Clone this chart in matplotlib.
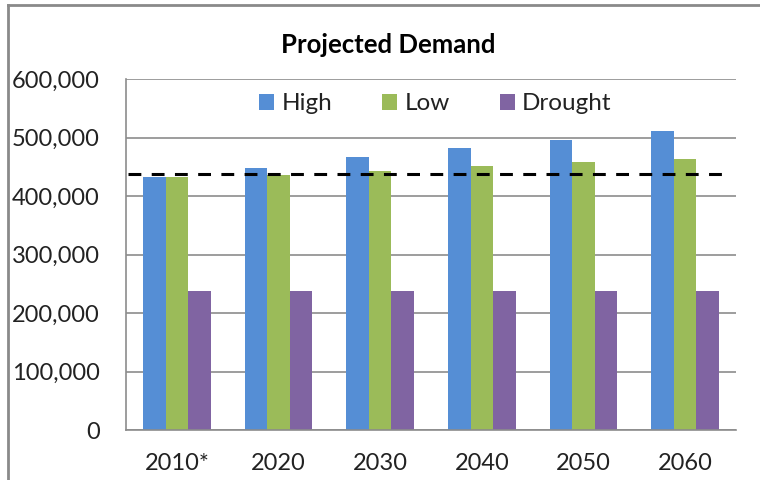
import matplotlib.pyplot as plt
import numpy as np
from matplotlib.ticker import FuncFormatter
from matplotlib.lines import Line2D

plt.rcParams['font.family'] = ['Lato', 'DejaVu Sans']

# Projected demand by decade
years = ["2010*", "2020", "2030", "2040", "2050", "2060"]
high = [432500, 448000, 467500, 483000, 496000, 511000]
low = [432500, 437000, 443000, 452000, 458500, 463000]
drought = [238500, 238500, 238500, 238500, 238500, 238500]
supply = 438000

series = [("High", high, "#558ED5"),
          ("Low", low, "#9BBB59"),
          ("Drought", drought, "#8064A2")]

fig = plt.figure(figsize=(7.6, 4.8), dpi=100)
ax = fig.add_axes([0.1658, 0.1035, 0.8026, 0.7313])

x = np.arange(len(years))
w = 1 / 4.5
for i, (name, vals, color) in enumerate(series):
    ax.bar(x + (i - 1) * w, vals, width=w, color=color, label=name, zorder=2)

# current supply line across all decades
ax.plot([-0.48, 5.39], [supply, supply], color="black", lw=2.2,
        linestyle=(0, (4.2, 3.4)), zorder=3)

ax.set_xlim(-0.5, 5.5)
ax.set_ylim(0, 600000)
ax.set_yticks(np.arange(0, 600001, 100000))
ax.yaxis.set_major_formatter(FuncFormatter(lambda v, p: f"{int(v):,}"))
ax.set_xticks(x)
ax.set_xticklabels(years)
ax.tick_params(axis="both", length=0, labelsize=17, colors="#222222")
ax.tick_params(axis="y", pad=19)
ax.tick_params(axis="x", pad=16)

ax.grid(axis="y", color="#8c8c8c", lw=1.2, zorder=0)
for s in ["top", "right"]:
    ax.spines[s].set_visible(False)
for s in ["left", "bottom"]:
    ax.spines[s].set_color("#8c8c8c")
    ax.spines[s].set_linewidth(1.2)

ax.legend(loc="center", bbox_to_anchor=(0.507, 0.93), ncol=3, frameon=False,
          fontsize=17.5, handlelength=0.62, handleheight=0.62,
          handletextpad=0.3, columnspacing=2.05, labelcolor="#222222")

fig.text(0.511, 0.906, "Projected Demand", ha="center", va="center",
         fontsize=18.5, fontweight="bold")

# outer chart frame
fig.add_artist(Line2D([8 / 760, 1], [1 - 5 / 480, 1 - 5 / 480], color="#8a8a8a", lw=2))
fig.add_artist(Line2D([8 / 760, 8 / 760], [0, 1 - 5 / 480], color="#8a8a8a", lw=2))

fig.savefig("out.png", dpi=100)
